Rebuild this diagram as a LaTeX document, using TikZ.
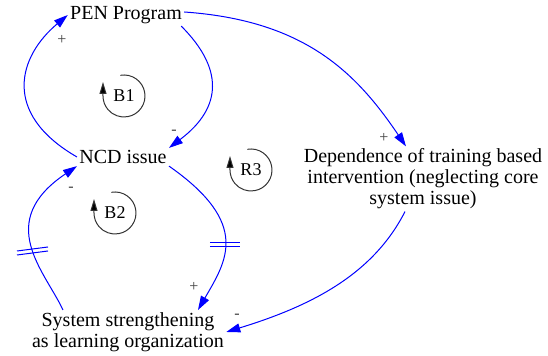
\documentclass[tikz,border=0pt]{standalone}
\usepackage{fontspec}
\setmainfont{Liberation Serif}
\usetikzlibrary{arrows.meta}

\tikzset{
  var/.style={inner sep=1pt, align=center, font=\fontsize{10}{10.5}\selectfont},
  link/.style={blue, line width=0.5pt, -{Triangle[length=7pt,width=4.5pt]}},
  sign/.style={inner sep=0pt, font=\fontsize{8}{8}\selectfont, black!75},
  hash/.style={blue, line width=0.5pt},
  loopsym/.style={black!80, line width=0.5pt, -{Triangle[length=6pt,width=3.5pt,fill=black]}},
  looplabel/.style={inner sep=0pt, font=\fontsize{9}{9}\selectfont}
}

\begin{document}
\begin{tikzpicture}[x=0.5pt, y=0.5pt]

% Canvas
\useasboundingbox (0,0) rectangle (548,-356);

% ===== Variables =====
\node[var] (pen) at (126,-15) {PEN Program};
\node[var] (ncd) at (123,-157) {NCD issue};
\node[var] (dep) at (423,-179) {Dependence of training based\\intervention (neglecting core\\system issue)};
\node[var] (sys) at (128,-332) {System strengthening\\as learning organization};

% ===== Loop B1 =====
\draw[link] (ncd.west) .. controls +(150:88) and +(220:64) .. (pen.west);
\draw[link] ([xshift=-1.5pt]pen.south east) .. controls +(-45:59) and +(37:68) .. (ncd.north east);
\node[sign] (p1) at (62,-40) {+};
\node[sign] (p2) at (174,-132) {-};

% ===== Loop B2 =====
\draw[link] (ncd.south east) .. controls +(-35:101) and +(60:56) .. ([xshift=35pt]sys.north);
\draw[link] ([xshift=-32.5pt]sys.north) .. controls +(115:43) and +(214:100) .. (ncd.south west);
\node[sign] (p3) at (194,-287) {+};
\node[sign] (p4) at (71,-189) {-};

% Delay marks
\draw[hash] (210,-243) -- (240,-243);
\draw[hash] (210,-247) -- (240,-247);
\draw[hash] (17,-251) -- (48,-247);
\draw[hash] (17,-255) -- (48,-251);

% ===== Loop R3 =====
\draw[link] ([yshift=1.5pt]pen.east) .. controls +(-4:120) and +(124:90) .. ([xshift=-8.5pt]dep.north);
\draw[link] ([xshift=-9pt]dep.south) .. controls +(-117:70) and +(17:90) .. (sys.east);
\node[sign] (p5) at (384,-138) {+};
\node[sign] (p6) at (237,-316) {-};

% ===== Loop markers =====
\draw[loopsym] (124,-96) ++(100:21) arc[start angle=100, end angle=-180, radius=21] -- ++(0,14);
\node[looplabel] (b1) at (124,-96) {B1};

\draw[loopsym] (115,-213) ++(100:21) arc[start angle=100, end angle=-180, radius=21] -- ++(0,14);
\node[looplabel] (b2) at (115,-213) {B2};

\draw[loopsym] (251,-170) ++(100:21) arc[start angle=100, end angle=-180, radius=21] -- ++(0,14);
\node[looplabel] (r3) at (251,-170) {R3};

\end{tikzpicture}
\end{document}
